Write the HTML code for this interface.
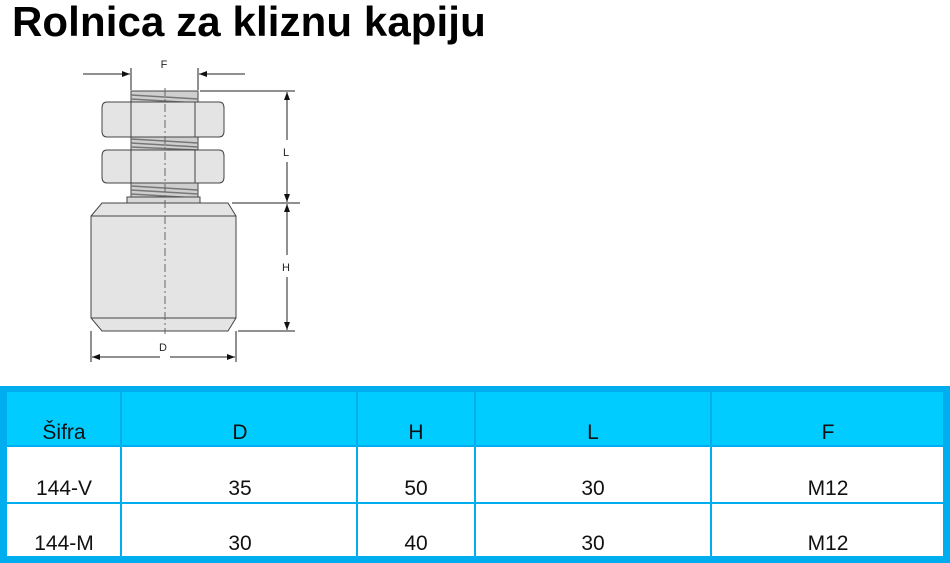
<!DOCTYPE html>
<html><head><meta charset="utf-8"><style>
body{margin:0;background:#fff;width:950px;height:563px;overflow:hidden;position:relative;font-family:"Liberation Sans",sans-serif}
.t{position:absolute;left:12px;top:0;font-weight:bold;font-size:42px;letter-spacing:0.1px;line-height:1;}
</style></head><body>
<div class="t" style="top:1px">Rolnica za kliznu kapiju</div>
<svg width="950" height="563" style="position:absolute;left:0;top:0" xmlns="http://www.w3.org/2000/svg">
<defs><marker id="a" markerWidth="8" markerHeight="6" refX="8" refY="3" orient="auto"><path d="M0,0L8,3L0,6z" fill="#111"/></marker></defs>
<g stroke="#444" stroke-width="1" fill="#e4e4e4">
<rect x="131" y="91" width="67" height="112" fill="#cfcfcf"/>
<g stroke="#777" stroke-width="1.5">
<line x1="131" y1="95" x2="198" y2="99"/><line x1="131" y1="99" x2="198" y2="103"/>
<line x1="131" y1="139" x2="198" y2="143"/><line x1="131" y1="143" x2="198" y2="147"/><line x1="131" y1="147" x2="198" y2="150"/>
<line x1="131" y1="186" x2="198" y2="190"/><line x1="131" y1="190" x2="198" y2="194"/><line x1="131" y1="194" x2="198" y2="198"/>
</g>
<rect x="127" y="197" width="73" height="6" fill="#d8d8d8"/>
<path d="M107,102H219Q224,102 224,108V131Q224,137 219,137H107Q102,137 102,131V108Q102,102 107,102z"/>
<line x1="131" y1="102" x2="131" y2="137"/><line x1="195" y1="102" x2="195" y2="137"/>
<path d="M107,150H219Q224,150 224,156V177Q224,183 219,183H107Q102,183 102,177V156Q102,150 107,150z"/>
<line x1="131" y1="150" x2="131" y2="183"/><line x1="195" y1="150" x2="195" y2="183"/>
<path d="M102,203H228L236,216V318L228,331H102L91,318V216z"/>
<line x1="91" y1="216" x2="236" y2="216"/><line x1="91" y1="318" x2="236" y2="318"/>
</g>
<line x1="165" y1="88" x2="165" y2="334" stroke="#666" stroke-dasharray="8,3,2,3"/>
<g stroke="#222" stroke-width="1" fill="none">
<line x1="131" y1="68" x2="131" y2="90"/><line x1="198" y1="68" x2="198" y2="90"/>
<line x1="83" y1="74" x2="130" y2="74" marker-end="url(#a)"/><line x1="245" y1="74" x2="199" y2="74" marker-end="url(#a)"/>
<line x1="200" y1="91" x2="295" y2="91"/><line x1="232" y1="203" x2="300" y2="203"/><line x1="238" y1="331" x2="295" y2="331"/>
<line x1="287" y1="140" x2="287" y2="92" marker-end="url(#a)"/><line x1="287" y1="162" x2="287" y2="202" marker-end="url(#a)"/>
<line x1="287" y1="255" x2="287" y2="204" marker-end="url(#a)"/><line x1="287" y1="277" x2="287" y2="330" marker-end="url(#a)"/>
<line x1="91" y1="331" x2="91" y2="362"/><line x1="236" y1="331" x2="236" y2="362"/>
<line x1="160" y1="357" x2="92" y2="357" marker-end="url(#a)"/><line x1="170" y1="357" x2="235" y2="357" marker-end="url(#a)"/>
</g>
<g font-family="Liberation Sans,sans-serif" font-size="11" fill="#222" text-anchor="middle">
<text x="164" y="68">F</text><text x="286" y="156">L</text><text x="286" y="271">H</text><text x="163" y="351">D</text>
</g>
<rect x="0" y="386" width="950" height="177" fill="#00aeef"/>
<rect x="7" y="392" width="936" height="164" fill="#fff"/>
<rect x="7" y="392" width="936" height="54" fill="#00ccff"/>
<g fill="#00aeef">
<rect x="7" y="445" width="936" height="2"/><rect x="7" y="502" width="936" height="2"/>
<rect x="120" y="392" width="2" height="164"/><rect x="356" y="392" width="2" height="164"/>
<rect x="474" y="392" width="2" height="164"/><rect x="710" y="392" width="2" height="164"/>
</g>
<g font-family="Liberation Sans,sans-serif" font-size="21" fill="#111" text-anchor="middle">
<text x="64" y="439">Šifra</text><text x="240" y="439">D</text><text x="416" y="439">H</text><text x="593" y="439">L</text><text x="828" y="439">F</text>
<text x="64" y="495">144-V</text><text x="240" y="495">35</text><text x="416" y="495">50</text><text x="593" y="495">30</text><text x="828" y="495">M12</text>
<text x="64" y="550">144-M</text><text x="240" y="550">30</text><text x="416" y="550">40</text><text x="593" y="550">30</text><text x="828" y="550">M12</text>
</g>
</svg>
</body></html>
